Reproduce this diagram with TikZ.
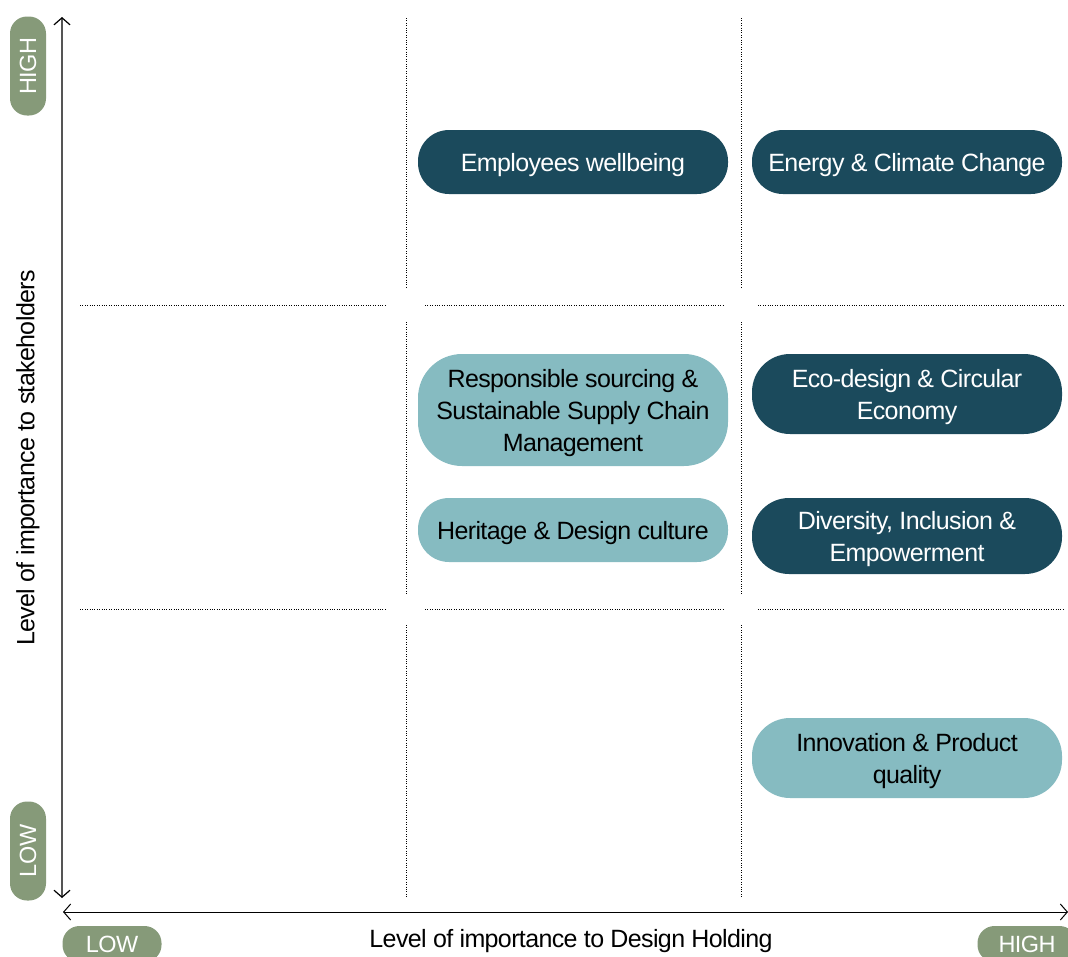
\documentclass[tikz,border=0pt]{standalone}
\usepackage{fontspec}
\setmainfont[LetterSpace=-2.5]{Liberation Sans}
\usetikzlibrary{arrows.meta,positioning}
\definecolor{darkteal}{HTML}{1B4A5C}
\definecolor{lightteal}{HTML}{86BBC1}
\definecolor{sage}{HTML}{869A79}
\definecolor{axisgray}{HTML}{555555}

\begin{document}
\begin{tikzpicture}[x=1pt,y=-1pt,
	pill/.style={rounded corners=31pt,minimum width=310pt,minimum height=64pt,align=center,inner sep=0pt,text depth=0pt,font=\fontsize{25}{32}\selectfont},
	darkpill/.style={pill,fill=darkteal,text=white},
	lightpill/.style={pill,fill=lightteal,text=black},
	tag/.style={fill=sage,text=white,rounded corners=17pt,minimum width=99pt,minimum height=36pt,inner sep=0pt,font=\fontsize{23.5}{23.5}\selectfont},
	gridline/.style={dotted,thin}]
	\useasboundingbox (0,0) rectangle (1068,956);
	% dotted grid
	\foreach \gx in {406,741}
		\foreach \ya/\yb in {18/288,322/594,625/897}
			\draw[gridline] (\gx,\ya) -- (\gx,\yb);
	\foreach \gy in {305,609}
		\foreach \xa/\xb in {80/387,425/724,758/1065}
			\draw[gridline] (\xa,\gy) -- (\xb,\gy);
	% axes
	\coordinate (ytop) at (62,17);
	\coordinate (ybot) at (62,898);
	\coordinate (xleft) at (63,912);
	\coordinate (xright) at (1068,912);
	\draw[axisgray,line width=1.2pt,{Straight Barb[length=7pt,width=16pt,black]}-{Straight Barb[length=7pt,width=16pt,black]}] (ybot) -- (ytop);
	\draw[black,line width=1pt,{Straight Barb[length=7pt,width=16pt]}-{Straight Barb[length=7pt,width=16pt]}] (xleft) -- (xright);
	\node[rotate=90,font=\fontsize{25}{25}\selectfont] (ylabel) at (28,458) {Level of importance to stakeholders};
	\node[font=\fontsize{25}{25}\selectfont] (xlabel) at (571,941) {Level of importance to Design Holding};
	% tags
	\node[tag,rotate=90] (yhigh) at (28,66) {HIGH};
	\node[tag,rotate=90] (ylow) at (28,851) {LOW};
	\node[tag] (xlow) at (112,944) {LOW};
	\node[tag] (xhigh) at (1027,944) {HIGH};
	% topics
	\node[darkpill] (emp) at (573,162) {Employees wellbeing};
	\node[darkpill] (energy) at (907,162) {Energy \& Climate Change};
	\node[lightpill,minimum height=112pt,rounded corners=44pt] (sourcing) at (573,410) {Responsible sourcing \&\\Sustainable Supply Chain\\Management};
	\node[darkpill,minimum height=80pt,rounded corners=38pt] (eco) at (907,394) {Eco-design \& Circular\\Economy};
	\node[lightpill] (heritage) at (573,530) {Heritage \& Design culture};
	\node[darkpill,minimum height=76pt,rounded corners=37pt] (diversity) at (907,536) {Diversity, Inclusion \&\\Empowerment};
	\node[lightpill,minimum height=80pt,rounded corners=38pt] (innovation) at (907,758) {Innovation \& Product\\quality};
\end{tikzpicture}
\end{document}
